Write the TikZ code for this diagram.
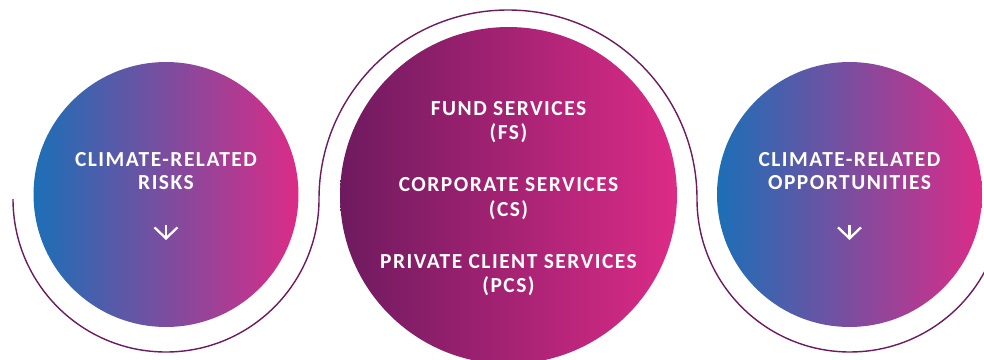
\documentclass[tikz,border=0pt]{standalone}
\usepackage{fontspec}
\setmainfont{Carlito}[LetterSpace=7]
\usetikzlibrary{arrows.meta, positioning, shadings}
\definecolor{riskblue}{HTML}{1C6FB7}
\definecolor{brandpink}{HTML}{DC2B87}
\definecolor{deepplum}{HTML}{6E1A5F}
\tikzset{
    sidecircle/.style={circle, inner sep=0pt, minimum size=5.3cm, left color=riskblue, right color=brandpink},
    svccircle/.style={circle, inner sep=0pt, minimum size=6.74cm, left color=deepplum, right color=brandpink},
    sidelabel/.style={text=white, align=center, inner sep=0pt, font=\fontsize{12.2}{13}\selectfont\bfseries},
    svclabel/.style={sidelabel, font=\fontsize{12.2}{13.7}\selectfont\bfseries},
    downarrow/.style={white, line width=1.3pt, -{Straight Barb[length=0.22cm, width=0.46cm, line width=1.3pt]}},
    swoosh/.style={draw=deepplum, line width=0.8pt}
}

\begin{document}
\begin{tikzpicture}[x=0.02cm, y=0.02cm]
    \useasboundingbox (0,0) rectangle (984,359);
    \clip (0,0) rectangle (984,359);

    % outline running round the three circles
    \draw [swoosh] (13,160) arc[start angle=180, end angle=360, radius=153]
        arc[start angle=180, end angle=0, radius=189]
        arc[start angle=180, end angle=336, radius=153];

    \node (risks) [sidecircle] at (166,164.5) {};
    \node (services) [svccircle] at (508.5,163.5) {};
    \node (opps) [sidecircle] at (849.5,164.5) {};

    \node (risks txt) [sidelabel] at ([yshift=0.47cm]risks.center) {CLIMATE-RELATED\\RISKS};
    \node (opps txt) [sidelabel] at ([yshift=0.47cm]opps.center) {CLIMATE-RELATED\\OPPORTUNITIES};

    \node (fs) [svclabel] at ([yshift=1.46cm]services.center) {FUND SERVICES\\(FS)};
    \node (cs) [svclabel, below=0.68cm of fs] {CORPORATE SERVICES\\(CS)};
    \node (pcs) [svclabel, below=0.68cm of cs] {PRIVATE CLIENT SERVICES\\(PCS)};

    \draw [downarrow] ([yshift=-0.61cm]risks.center) -- ([yshift=-0.91cm]risks.center);
    \draw [downarrow] ([yshift=-0.61cm]opps.center) -- ([yshift=-0.91cm]opps.center);
\end{tikzpicture}
\end{document}
